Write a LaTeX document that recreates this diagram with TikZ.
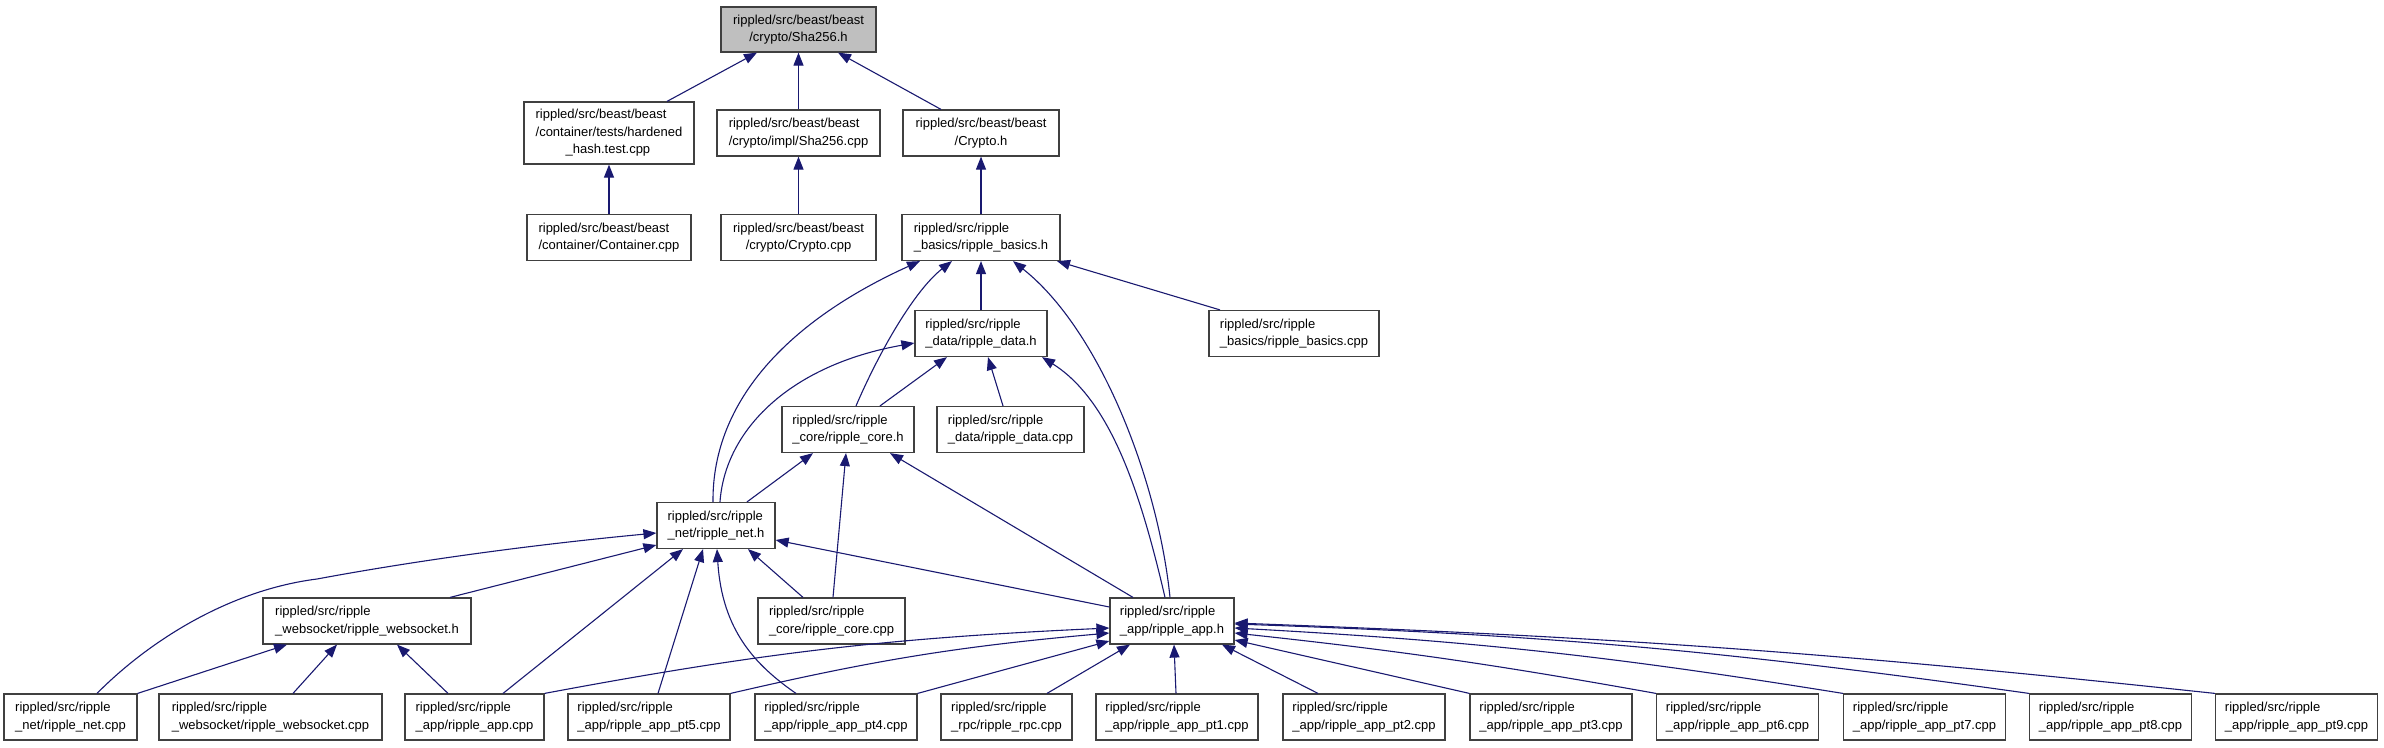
\documentclass[tikz,border=0pt]{standalone}
\usepackage{fontspec}
\setmainfont{Liberation Sans}
\usetikzlibrary{arrows.meta}
\definecolor{linkblue}{RGB}{25,25,112}
\definecolor{boxline}{RGB}{64,64,64}
\definecolor{boxgrey}{RGB}{191,191,191}
\begin{document}
\begin{tikzpicture}[x=1pt, y=-1pt,
  file/.style={draw=boxline, line width=1.2pt, fill=white, align=left, inner xsep=2pt, inner ysep=0pt, minimum height=46pt, font=\fontsize{13}{17.5}\selectfont},
  dep/.style={draw=linkblue, line width=1.1pt, -{Triangle[length=13pt, width=10pt]}}]
\useasboundingbox (0,0) rectangle (2384,747);
\node[file, fill=boxgrey, align=center, minimum width=155pt, minimum height=45pt] (sha) at (798.5,29.5) {rippled/src/beast/beast\\/crypto/Sha256.h};
\node[file, minimum width=170pt, minimum height=62pt] (hard) at (609,133) {rippled/src/beast/beast\\/container/tests/hardened\\\hspace*{30pt}\_hash.test.cpp};
\node[file, minimum width=163pt] (shacpp) at (798.5,133) {rippled/src/beast/beast\\/crypto/impl/Sha256.cpp};
\node[file, align=center, minimum width=156pt] (crypto) at (981,133) {rippled/src/beast/beast\\/Crypto.h};
\node[file, minimum width=164pt] (cont) at (609,237.5) {rippled/src/beast/beast\\/container/Container.cpp};
\node[file, align=center, minimum width=155pt] (cryptocpp) at (798.5,237.5) {rippled/src/beast/beast\\/crypto/Crypto.cpp};
\node[file, minimum width=158pt] (basics) at (981,237.5) {rippled/src/ripple\\\_basics/ripple\_basics.h};
\node[file, minimum width=132pt] (data) at (981,333.5) {rippled/src/ripple\\\_data/ripple\_data.h};
\node[file, minimum width=170pt] (basicscpp) at (1294,333.5) {rippled/src/ripple\\\_basics/ripple\_basics.cpp};
\node[file, minimum width=132pt] (core) at (848,429.5) {rippled/src/ripple\\\_core/ripple\_core.h};
\node[file, minimum width=147pt] (datacpp) at (1010.5,429.5) {rippled/src/ripple\\\_data/ripple\_data.cpp};
\node[file, minimum width=118pt] (net) at (716,525.5) {rippled/src/ripple\\\_net/ripple\_net.h};
\node[file, minimum width=208pt] (ws) at (367,621) {rippled/src/ripple\\\_websocket/ripple\_websocket.h};
\node[file, minimum width=147pt] (corecpp) at (831.5,621) {rippled/src/ripple\\\_core/ripple\_core.cpp};
\node[file, minimum width=124pt] (app) at (1172,621) {rippled/src/ripple\\\_app/ripple\_app.h};
\node[file, minimum width=133pt] (netcpp) at (70.5,717) {rippled/src/ripple\\\_net/ripple\_net.cpp};
\node[file, minimum width=223pt] (wscpp) at (270.5,717) {rippled/src/ripple\\\_websocket/ripple\_websocket.cpp};
\node[file, minimum width=139pt] (appcpp) at (474.5,717) {rippled/src/ripple\\\_app/ripple\_app.cpp};
\node[file, minimum width=162pt] (pt5) at (649,717) {rippled/src/ripple\\\_app/ripple\_app\_pt5.cpp};
\node[file, minimum width=162pt] (pt4) at (836,717) {rippled/src/ripple\\\_app/ripple\_app\_pt4.cpp};
\node[file, minimum width=131pt] (rpc) at (1006.5,717) {rippled/src/ripple\\\_rpc/ripple\_rpc.cpp};
\node[file, minimum width=162pt] (pt1) at (1177,717) {rippled/src/ripple\\\_app/ripple\_app\_pt1.cpp};
\node[file, minimum width=162pt] (pt2) at (1364,717) {rippled/src/ripple\\\_app/ripple\_app\_pt2.cpp};
\node[file, minimum width=162pt] (pt3) at (1551,717) {rippled/src/ripple\\\_app/ripple\_app\_pt3.cpp};
\node[file, minimum width=162pt] (pt6) at (1737.5,717) {rippled/src/ripple\\\_app/ripple\_app\_pt6.cpp};
\node[file, minimum width=162pt] (pt7) at (1924.5,717) {rippled/src/ripple\\\_app/ripple\_app\_pt7.cpp};
\node[file, minimum width=162pt] (pt8) at (2110.5,717) {rippled/src/ripple\\\_app/ripple\_app\_pt8.cpp};
\node[file, minimum width=162pt] (pt9) at (2296.5,717) {rippled/src/ripple\\\_app/ripple\_app\_pt9.cpp};

\draw[dep] ([xshift=58pt]hard.north) -- ([xshift=-41.5pt]sha.south);
\draw[dep] (shacpp.north) -- (sha.south);
\draw[dep] ([xshift=-40pt]crypto.north) -- ([xshift=39.5pt]sha.south);
\draw[dep] (cont.north) -- (hard.south);
\draw[dep] (cryptocpp.north) -- (shacpp.south);
\draw[dep] (basics.north) -- (crypto.south);
\draw[dep] (data.north) -- (basics.south);
\draw[dep] ([xshift=-74pt]basicscpp.north) -- ([xshift=76pt]basics.south);
\draw[dep] ([xshift=8pt]core.north) .. controls (880,350) and (915,290) .. ([xshift=-29pt]basics.south);
\draw[dep] ([xshift=-3pt]net.north) .. controls (712,400) and (790,320) .. ([xshift=-61pt]basics.south);
\draw[dep] ([xshift=-2pt]app.north) .. controls (1158,480) and (1100,330) .. ([xshift=32pt]basics.south);
\draw[dep] ([xshift=32pt]core.north) -- ([xshift=-34pt]data.south);
\draw[dep] ([xshift=-7.5pt]datacpp.north) -- ([xshift=7pt]data.south);
\draw[dep] ([xshift=4pt]net.north) .. controls (725,430) and (790,365) .. ([yshift=-9.5pt]data.west);
\draw[dep] ([xshift=-7pt]app.north) .. controls (1140,490) and (1110,400) .. ([xshift=61pt]data.south);
\draw[dep] ([xshift=31pt]net.north) -- ([xshift=-35pt]core.south);
\draw[dep] ([xshift=1.5pt]corecpp.north) -- ([xshift=-2pt]core.south);
\draw[dep] ([xshift=-39pt]app.north) -- ([xshift=42pt]core.south);
\draw[dep] ([xshift=26.5pt]netcpp.north) .. controls (150,640) and (230,590) .. (317,579) .. controls (430,558) and (550,543) .. ([yshift=-7.5pt]net.west);
\draw[dep] ([xshift=83pt]ws.north) -- ([yshift=-19.5pt]net.west);
\draw[dep] ([xshift=28.5pt]appcpp.north) -- ([xshift=-33pt]net.south);
\draw[dep] ([xshift=9pt]pt5.north) -- ([xshift=-13pt]net.south);
\draw[dep] ([xshift=-40pt]pt4.north) .. controls (755,665) and (722,630) .. ([xshift=1pt]net.south);
\draw[dep] ([xshift=-28.5pt]corecpp.north) -- ([xshift=32pt]net.south);
\draw[dep] ([yshift=14pt]app.west) -- ([yshift=-14.5pt]net.east);
\draw[dep] (netcpp.north east) -- ([xshift=-80pt]ws.south);
\draw[dep] ([xshift=22.5pt]wscpp.north) -- ([xshift=-30pt]ws.south);
\draw[dep] ([xshift=-26.5pt]appcpp.north) -- ([xshift=30pt]ws.south);
\draw[dep] (appcpp.north east) to[bend left=4] ([yshift=-7pt]app.west);
\draw[dep] (pt5.north east) to[bend left=4] ([yshift=-12pt]app.west);
\draw[dep] (pt4.north east) -- ([yshift=-20pt]app.west);
\draw[dep] ([xshift=40.5pt]rpc.north) -- ([xshift=-42pt]app.south);
\draw[dep] ([xshift=-1pt]pt1.north) -- ([xshift=2pt]app.south);
\draw[dep] ([xshift=-46pt]pt2.north) -- ([xshift=50pt]app.south);
\draw[dep] (pt3.north west) -- ([yshift=-19pt]app.east);
\draw[dep] (pt6.north west) to[bend right=2] ([yshift=-12pt]app.east);
\draw[dep] (pt7.north west) to[bend right=3] ([yshift=-7pt]app.east);
\draw[dep] (pt8.north west) to[bend right=3] ([yshift=-3pt]app.east);
\draw[dep] (pt9.north west) to[bend right=2] ([yshift=-2pt]app.east);
\end{tikzpicture}
\end{document}
